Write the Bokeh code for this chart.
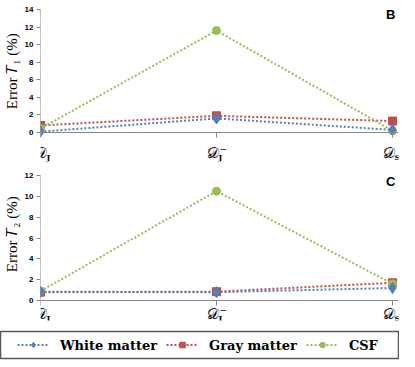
from bokeh.plotting import figure
from bokeh.models import Range1d, FixedTicker, Label, Legend, LegendItem
from bokeh.layouts import column, row
from bokeh.embed import file_html
from bokeh.resources import INLINE
from bokeh.core.properties import value

# ---- data ----
cat_sub = ["J", "J", "S"]
cat_sup = ["", "\u2212", ""]
series_names = ["White matter", "Gray matter", "CSF"]
t1_white = [0.1, 1.6, 0.3]
t1_gray = [0.8, 1.9, 1.3]
t1_csf = [0.45, 11.6, 0.2]
t2_white = [0.85, 0.8, 1.2]
t2_gray = [0.8, 0.85, 1.7]
t2_csf = [0.9, 10.5, 1.6]
t1_ticks = [0, 2, 4, 6, 8, 10, 12, 14]
t2_ticks = [0, 2, 4, 6, 8, 10, 12]

COLORS = {"White matter": "#4F81BD", "Gray matter": "#C0504D", "CSF": "#9BBB59"}
MARKERS = {"White matter": ("diamond", 11), "Gray matter": ("square", 8), "CSF": ("circle", 8)}
AXIS_COLOR = "#868686"
SERIF = "DejaVu Serif"
xs = list(range(len(cat_sub)))


def make_panel(height, border_top, border_bottom, tmax_px, zero_px, ticks, ylabel, series,
               letter, d_px, sub_px, sup_px, letter_px, label_dx):
    ymax = max(ticks)
    frame_top = border_top
    frame_bottom = height - border_bottom
    ppu = (zero_px - tmax_px) / ymax          # pixels per unit
    ystart = -(frame_bottom - zero_px) / ppu
    yend = ymax + (tmax_px - frame_top) / ppu
    p = figure(width=399, height=height, output_backend="svg", toolbar_location=None,
               x_range=Range1d(0, 2.034), y_range=Range1d(ystart, yend),
               min_border_left=34, min_border_right=1, min_border_top=border_top,
               min_border_bottom=border_bottom, outline_line_color=None)
    p.xgrid.visible = False
    p.ygrid.visible = False
    # y axis
    ya = p.yaxis[0]
    ya.ticker = FixedTicker(ticks=ticks)
    ya.axis_label = ylabel
    ya.axis_label_text_font = "Liberation Serif"
    ya.axis_label_text_font_style = "normal"
    ya.axis_label_text_font_size = "15px"
    ya.axis_label_text_color = "#000000"
    ya.axis_label_standoff = 2
    ya.major_label_text_font = "Liberation Sans"
    ya.major_label_text_font_style = "bold"
    ya.major_label_text_font_size = "8px"
    ya.major_label_text_color = "#000000"
    ya.major_label_standoff = 3
    ya.axis_line_color = None
    ya.major_tick_line_color = AXIS_COLOR
    ya.major_tick_out = 4
    ya.major_tick_in = 0
    ya.minor_tick_line_color = None
    p.segment(x0=[0], y0=[0], x1=[0], y1=[ymax], line_color=AXIS_COLOR, line_width=1)
    # x axis (at y = 0)
    xa = p.xaxis[0]
    xa.fixed_location = 0
    xa.ticker = FixedTicker(ticks=xs)
    xa.major_label_text_font_size = "0px"
    xa.major_label_standoff = 0
    xa.axis_line_color = AXIS_COLOR
    xa.major_tick_line_color = AXIS_COLOR
    xa.major_tick_out = 5
    xa.major_tick_in = 0
    xa.minor_tick_line_color = None

    for name in ["Gray matter", "CSF", "White matter"]:
        ys = series[name]
        c = COLORS[name]
        p.line(xs, ys, line_color=c, line_width=2, line_dash="2 2")
        m, s = MARKERS[name]
        p.scatter(xs, ys, marker=m, size=s, fill_color=c, line_color=c)

    # category labels  D_J, D_J^-, D_S
    n = len(xs)
    p.text(x=xs, y=[-d_px / ppu] * n, text=["\U0001D49F"] * n, x_offset=label_dx,
           text_align="right", text_baseline="middle", text_font=value(SERIF),
           text_font_size="15px", text_font_style="normal", text_color="#000000")
    p.text(x=xs, y=[-sub_px / ppu] * n, text=cat_sub, x_offset=label_dx,
           text_align="left", text_baseline="middle", text_font=value(SERIF),
           text_font_size="8px", text_font_style="bold", text_color="#000000")
    p.text(x=xs, y=[-sup_px / ppu] * n, text=cat_sup, x_offset=[d + 1 for d in label_dx],
           text_align="left", text_baseline="middle", text_font=value(SERIF),
           text_font_size="9px", text_color="#000000")
    p.add_layout(Label(x=1.99, y=(zero_px - letter_px) / ppu, text=letter, text_align="center",
                       text_baseline="middle", text_font="Liberation Sans",
                       text_font_size="13px", text_font_style="bold", text_color="#000000"))
    return p


p1 = make_panel(166, 3, 5, 9, 132, t1_ticks, "\u2002" * 3 + "Error \U0001D447\u2081 (%)",
                {"White matter": t1_white, "Gray matter": t1_gray, "CSF": t1_csf}, "B",
                d_px=20, sub_px=24, sup_px=16, letter_px=14, label_dx=[6, 2, 2])
p2 = make_panel(159, 4, 5, 175 - 166, 300 - 166, t2_ticks, "\u2002" * 3 + "Error \U0001D447\u2082 (%)",
                {"White matter": t2_white, "Gray matter": t2_gray, "CSF": t2_csf}, "C",
                d_px=13, sub_px=17, sup_px=9, letter_px=181 - 166, label_dx=[6, 2, 2])

# ---- legend figure (frame outline = legend box) ----
pl = figure(width=399, height=38, output_backend="svg", toolbar_location=None,
            x_range=Range1d(0, 1), y_range=Range1d(0, 1), x_axis_type=None, y_axis_type=None,
            min_border_left=0, min_border_right=1, min_border_top=6, min_border_bottom=5,
            outline_line_color="#595959", outline_line_width=1.5)
pl.xgrid.visible = False
pl.ygrid.visible = False
items = []
for name in series_names:
    c = COLORS[name]
    lr = pl.line([-5, -4], [-5, -4], line_color=c, line_width=2, line_dash="2 2")
    m, s = MARKERS[name]
    sr = pl.scatter([-5], [-5], marker=m, size=s, fill_color=c, line_color=c)
    items.append(LegendItem(label=name, renderers=[lr, sr]))
leg = Legend(items=items, orientation="horizontal", location="left",
             label_text_font=SERIF, label_text_font_style="bold",
             label_text_font_size="13px", label_text_color="#000000",
             glyph_width=32, glyph_height=14, label_height=14, label_standoff=11,
             spacing=9, padding=0, margin=17, border_line_color=None,
             background_fill_alpha=0)
pl.add_layout(leg, "center")

layout = column(p1, p2, row(pl), spacing=0)
open("out.html", "w").write(file_html(layout, INLINE))
